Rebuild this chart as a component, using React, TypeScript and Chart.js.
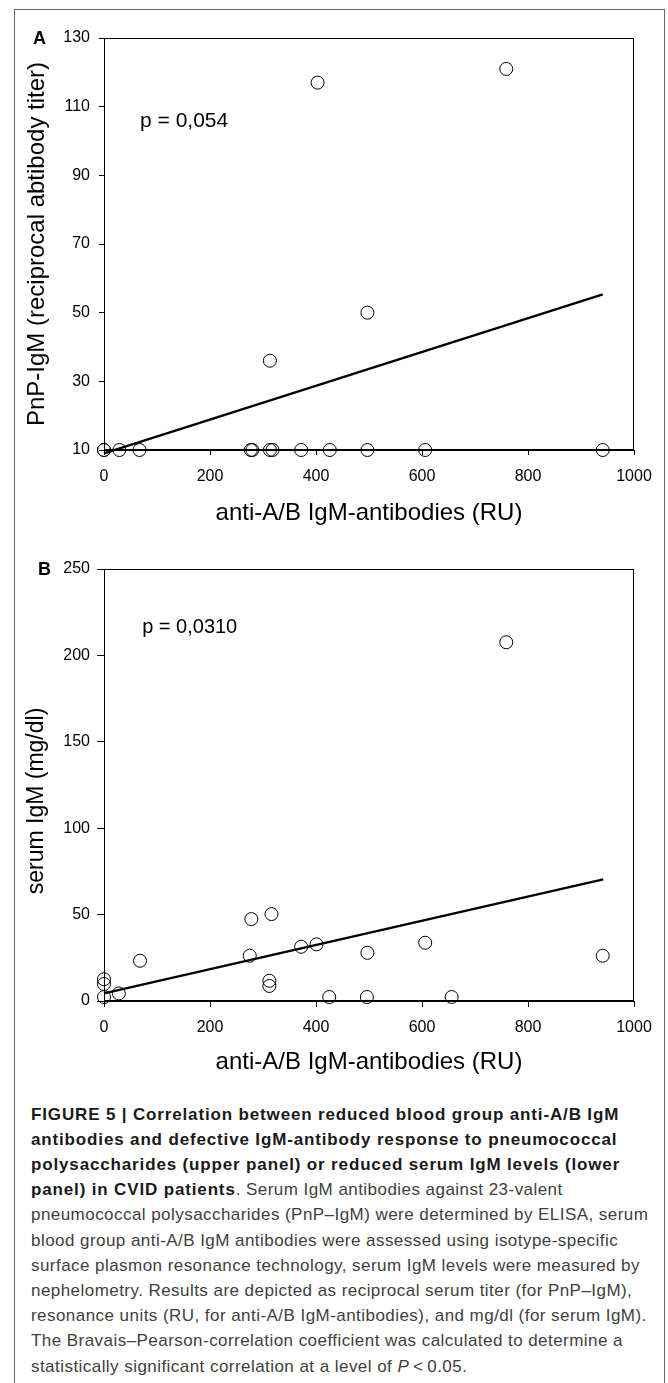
import React, { useEffect, useRef } from "react";
import { Chart, registerables } from "chart.js";

Chart.register(...registerables);

const FONT = "'Liberation Sans', Arial, Helvetica, sans-serif";

// ---------- shared x axis ----------
const xTickValues = [0, 200, 400, 600, 800, 1000];
const xAxisTitle = "anti-A/B IgM-antibodies (RU)";

// ---------- Panel A : PnP-IgM ----------
const pnpAntiAB = [0, 0, 29, 67, 277, 280, 313, 318, 372, 426, 497, 606, 941, 313, 403, 497, 759];
const pnpIgM = [10, 10, 10, 10, 10, 10, 10, 10, 10, 10, 10, 10, 10, 36, 117, 50, 121];
const pnpFitX = [0, 941];
const pnpFitY = [9, 55.3];
const pnpYTicks = [10, 30, 50, 70, 90, 110, 130];
const pnpYTitle = "PnP-IgM (reciprocal abtibody titer)";
const pnpPText = "p = 0,054";
const pnpPPos = [68, 105.8];

// ---------- Panel B : serum IgM ----------
const igmAntiAB = [0, 0, 0, 28, 68, 275, 278, 312, 312, 316, 372, 401, 425, 496, 497, 606, 656, 759, 941];
const igmSerum = [12.6, 9.8, 2.3, 4.4, 23.3, 26.2, 47.4, 11.7, 8.7, 50.3, 31.4, 32.8, 2.3, 2.3, 27.9, 33.7, 2.3, 207.6, 26.2];
const igmFitX = [0, 942];
const igmFitY = [4.4, 70.4];
const igmYTicks = [0, 50, 100, 150, 200, 250];
const igmYTitle = "serum IgM (mg/dl)     ";
const igmPText = "p = 0,0310";
const igmPPos = [72, 216.1];

// ---------- caption ----------
const captionLines: { b?: string; r?: string; i?: string; r2?: string }[] = [
  { b: "FIGURE 5 | Correlation between reduced blood group anti-A/B IgM" },
  { b: "antibodies and defective IgM-antibody response to pneumococcal" },
  { b: "polysaccharides (upper panel) or reduced serum IgM levels (lower" },
  { b: "panel) in CVID patients", r: ". Serum IgM antibodies against 23-valent" },
  { r: "pneumococcal polysaccharides (PnP\u2013IgM) were determined by ELISA, serum" },
  { r: "blood group anti-A/B IgM antibodies were assessed using isotype-specific" },
  { r: "surface plasmon resonance technology, serum IgM levels were measured by" },
  { r: "nephelometry. Results are depicted as reciprocal serum titer (for PnP\u2013IgM)," },
  { r: "resonance units (RU, for anti-A/B IgM-antibodies), and mg/dl (for serum IgM)." },
  { r: "The Bravais\u2013Pearson-correlation coefficient was calculated to determine a" },
  { r: "statistically significant correlation at a level of ", i: "P", r2: "\u2009<\u20090.05." },
];

type PanelSpec = {
  height: number;
  padTop: number;
  xAxisH: number;
  xs: number[];
  ys: number[];
  fitX: number[];
  fitY: number[];
  yMin: number;
  yMax: number;
  yTicks: number[];
  yTitle: string;
  yTitleSize: number;
  yTitlePad: number;
  yTickLen: number;
  yTickPad: number;
  xTickLen: number;
  xTickPad: number;
  xTitlePad: number;
  pText: string;
  pPos: number[];
  pSize: number;
};

function buildConfig(s: PanelSpec): any {
  const boxPlugin = {
    id: "plotBox",
    afterDraw(chart: any) {
      const { ctx, chartArea } = chart;
      ctx.save();
      ctx.strokeStyle = "#000";
      ctx.lineWidth = 1;
      const l = Math.round(chartArea.left) + 0.5;
      const t = Math.round(chartArea.top) + 0.5;
      const r = Math.round(chartArea.right) - 0.5;
      const b = Math.round(chartArea.bottom) - 0.5;
      ctx.strokeRect(l, t, r - l, b - t);
      ctx.restore();
    },
  };
  const pPlugin = {
    id: "pValue",
    afterDatasetsDraw(chart: any) {
      const { ctx } = chart;
      const x = chart.scales.x.getPixelForValue(s.pPos[0]);
      const y = chart.scales.y.getPixelForValue(s.pPos[1]);
      ctx.save();
      ctx.fillStyle = "#000";
      ctx.font = `${s.pSize}px ${FONT}`;
      ctx.textAlign = "left";
      ctx.textBaseline = "middle";
      ctx.fillText(s.pText, x, y);
      ctx.restore();
    },
  };
  return {
    type: "scatter",
    data: {
      datasets: [
        {
          data: s.xs.map((x, i) => ({ x, y: s.ys[i] })),
          showLine: false,
          pointStyle: "circle",
          pointRadius: 6.5,
          pointHoverRadius: 6.5,
          pointBorderWidth: 1,
          pointBorderColor: "#000",
          pointBackgroundColor: "rgba(0,0,0,0)",
          clip: false,
        },
        {
          data: s.fitX.map((x, i) => ({ x, y: s.fitY[i] })),
          showLine: true,
          borderColor: "#000",
          borderWidth: 2.3,
          pointRadius: 0,
          pointHoverRadius: 0,
          fill: false,
          tension: 0,
          clip: false,
        },
      ],
    },
    options: {
      responsive: false,
      maintainAspectRatio: false,
      animation: false,
      devicePixelRatio: 1,
      events: [],
      layout: { padding: { left: 0, right: 34, top: s.padTop, bottom: 0 } },
      plugins: { legend: { display: false }, tooltip: { enabled: false }, title: { display: false } },
      scales: {
        x: {
          type: "linear",
          position: "bottom",
          min: 0,
          max: 1000,
          afterBuildTicks: (sc: any) => {
            sc.ticks = xTickValues.map((v) => ({ value: v }));
          },
          afterFit: (sc: any) => {
            sc.height = s.xAxisH;
          },
          grid: { drawOnChartArea: false, drawTicks: true, tickLength: s.xTickLen, color: "#000", lineWidth: 1 },
          border: { display: true, color: "#000", width: 1 },
          ticks: {
            padding: s.xTickPad,
            color: "#000",
            font: { family: FONT, size: 16 },
            maxRotation: 0,
            autoSkip: false,
            callback: (v: any) => String(v),
          },
          title: {
            display: true,
            text: xAxisTitle,
            color: "#000",
            font: { family: FONT, size: 24 },
            padding: { top: 0, bottom: s.xTitlePad },
          },
        },
        y: {
          type: "linear",
          position: "left",
          min: s.yMin,
          max: s.yMax,
          afterBuildTicks: (sc: any) => {
            sc.ticks = s.yTicks.map((v) => ({ value: v }));
          },
          afterFit: (sc: any) => {
            sc.width = 104;
          },
          grid: { drawOnChartArea: false, drawTicks: true, tickLength: s.yTickLen, color: "#000", lineWidth: 1 },
          border: { display: true, color: "#000", width: 1 },
          ticks: {
            padding: s.yTickPad,
            color: "#000",
            font: { family: FONT, size: 16 },
            autoSkip: false,
            callback: (v: any) => String(v),
          },
          title: {
            display: true,
            text: s.yTitle,
            color: "#000",
            font: { family: FONT, size: s.yTitleSize },
            padding: { top: s.yTitlePad, bottom: 0 },
          },
        },
      },
    },
    plugins: [boxPlugin, pPlugin],
  };
}

const panelA: PanelSpec = {
  height: 540,
  padTop: 38,
  xAxisH: 90,
  xs: pnpAntiAB,
  ys: pnpIgM,
  fitX: pnpFitX,
  fitY: pnpFitY,
  yMin: 10,
  yMax: 130,
  yTicks: pnpYTicks,
  yTitle: pnpYTitle,
  yTitleSize: 24,
  yTitlePad: 22.6,
  yTickLen: 5,
  yTickPad: 9,
  xTickLen: 5,
  xTickPad: 12.4,
  xTitlePad: 12.6,
  pText: pnpPText,
  pPos: pnpPPos,
  pSize: 21,
};

const panelB: PanelSpec = {
  height: 560,
  padTop: 29,
  xAxisH: 99,
  xs: igmAntiAB,
  ys: igmSerum,
  fitX: igmFitX,
  fitY: igmFitY,
  yMin: 0,
  yMax: 250,
  yTicks: igmYTicks,
  yTitle: igmYTitle,
  yTitleSize: 23,
  yTitlePad: 23.2,
  yTickLen: 7,
  yTickPad: 7,
  xTickLen: 6,
  xTickPad: 11.1,
  xTitlePad: 23.6,
  pText: igmPText,
  pPos: igmPPos,
  pSize: 20,
};

function Panel({ spec, top }: { spec: PanelSpec; top: number }) {
  const ref = useRef<HTMLCanvasElement | null>(null);
  useEffect(() => {
    if (!ref.current) return;
    const chart = new Chart(ref.current, buildConfig(spec));
    return () => chart.destroy();
  }, [spec]);
  return (
    <canvas
      ref={ref}
      width={668}
      height={spec.height}
      style={{ position: "absolute", left: 0, top, width: 668, height: spec.height }}
    />
  );
}

export default function App() {
  return (
    <div
      style={{
        position: "absolute",
        left: 0,
        top: 0,
        width: 668,
        height: 1383,
        overflow: "hidden",
        background: "#fff",
      }}
    >
      <div
        style={{
          position: "absolute",
          left: 14,
          top: 9,
          width: 649,
          height: 1400,
          borderLeft: "1px solid #666",
          borderTop: "1px solid #666",
          borderRight: "1px solid #666",
        }}
      />
      <Panel spec={panelA} top={0} />
      <Panel spec={panelB} top={540} />
      <div
        style={{
          position: "absolute",
          left: 33,
          top: 28.7,
          fontFamily: FONT,
          fontWeight: "bold",
          fontSize: 18,
          lineHeight: "18px",
          color: "#000",
        }}
      >
        A
      </div>
      <div
        style={{
          position: "absolute",
          left: 38,
          top: 559.8,
          fontFamily: FONT,
          fontWeight: "bold",
          fontSize: 18,
          lineHeight: "18px",
          color: "#000",
        }}
      >
        B
      </div>
      <div
        style={{
          position: "absolute",
          left: 31,
          top: 1101.5,
          fontFamily: FONT,
          fontSize: 17,
          lineHeight: "25.2px",
          whiteSpace: "nowrap",
          color: "#404040",
        }}
      >
        {captionLines.map((ln, k) => (
          <div key={k}>
            {ln.b ? <span style={{ fontWeight: "bold", color: "#1a1a1a", letterSpacing: "0.85px" }}>{ln.b}</span> : null}
            {ln.r ? <span style={{ letterSpacing: "0.45px" }}>{ln.r}</span> : null}
            {ln.i ? <span style={{ fontStyle: "italic", letterSpacing: "0.45px" }}>{ln.i}</span> : null}
            {ln.r2 ? <span style={{ letterSpacing: "0.45px" }}>{ln.r2}</span> : null}
          </div>
        ))}
      </div>
    </div>
  );
}
